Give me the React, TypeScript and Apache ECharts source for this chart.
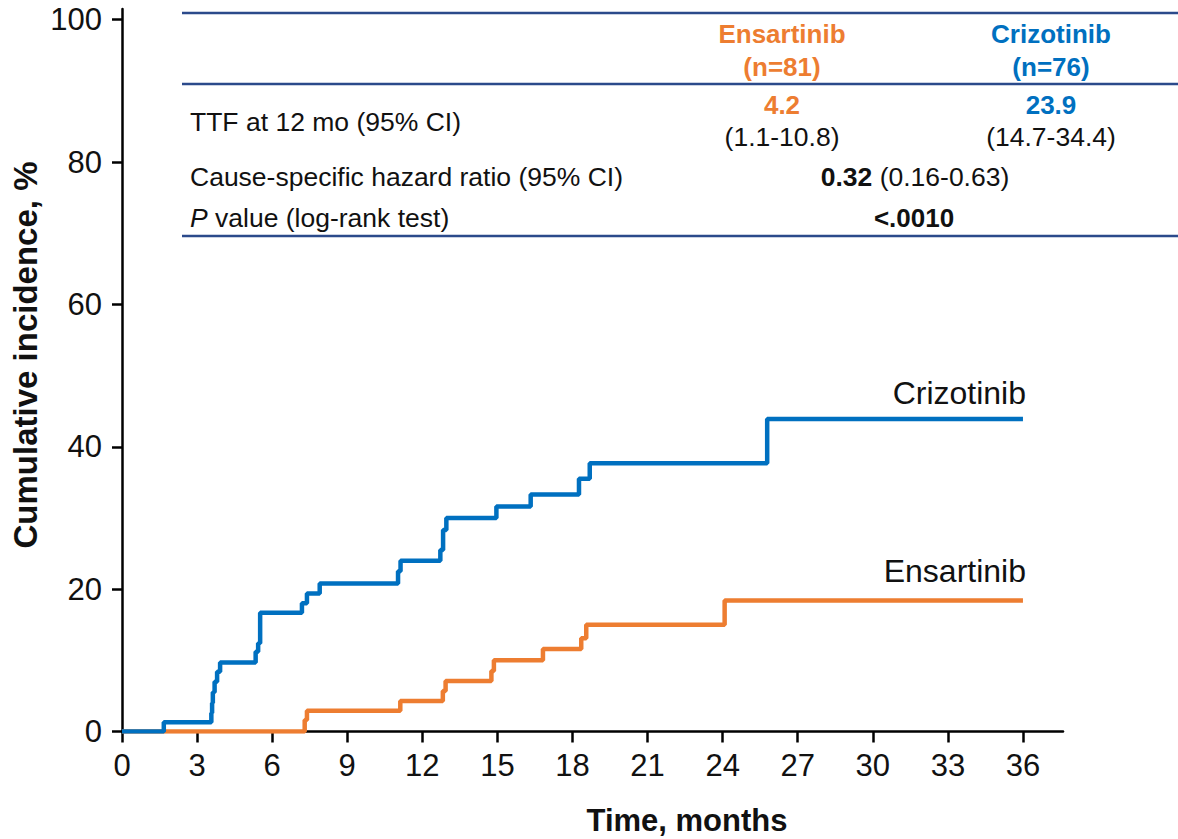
import React, { useEffect, useRef } from "react";
import * as echarts from "echarts";

const xTicks = [0, 3, 6, 9, 12, 15, 18, 21, 24, 27, 30, 33, 36];
const yTicks = [0, 20, 40, 60, 80, 100];

const crizTime = [0, 1.67, 3.57, 3.6, 3.63, 3.7, 3.8, 3.92, 5.34, 5.44, 5.52, 7.19, 7.39, 7.9, 11.03, 11.13, 12.72, 12.83, 12.96, 14.96, 16.33, 18.26, 18.69, 25.78, 36];
const crizInc = [0, 1.3, 2.6, 4.0, 5.5, 7.0, 8.4, 9.7, 11.2, 12.4, 16.7, 18.0, 19.4, 20.8, 22.5, 24.0, 25.5, 28.3, 30.0, 31.6, 33.3, 35.5, 37.7, 43.9, 43.9];

const ensTime = [0, 7.3, 7.39, 11.12, 12.82, 12.93, 14.76, 14.86, 16.82, 18.35, 18.55, 24.08, 36];
const ensInc = [0, 1.6, 2.9, 4.3, 5.7, 7.1, 8.5, 10.0, 11.6, 13.1, 15.0, 18.4, 18.4];

const ORANGE = "#ED7D31";
const BLUE = "#0070C0";
const NAVY = "#2B4A8B";
const FONT = "Liberation Sans";

export default function App() {
  const ref = useRef<HTMLDivElement>(null);
  useEffect(() => {
    if (!ref.current) return;
    const chart = echarts.init(ref.current, null, { renderer: "svg" });
    const tableLine = (y: number) => ({
      type: "line",
      shape: { x1: 182, y1: y, x2: 1178, y2: y },
      style: { stroke: NAVY, lineWidth: 2.5 },
    });
    const txt = (text: string, x: number, y: number, opts: any = {}) => ({
      type: "text",
      x,
      y,
      style: {
        text,
        fontFamily: FONT,
        fontSize: opts.fontSize ?? 26.5,
        fontWeight: opts.bold ? "bold" : "normal",
        fill: opts.color ?? "#111",
        align: opts.align ?? "center",
        verticalAlign: "middle",
        rich: opts.rich,
      },
      rotation: opts.rotation ?? 0,
    });
    chart.setOption({
      animation: false,
      grid: { left: 122, right: 115, top: 9, bottom: 107.5, outerBoundsMode: "none" },
      xAxis: {
        type: "value",
        min: 0,
        max: 37.6,
        interval: 3,
        splitLine: { show: false },
        axisLine: { lineStyle: { color: "#000", width: 2.5 } },
        axisTick: { show: true, length: 11, lineStyle: { color: "#000", width: 2.5 }, customValues: xTicks },
        axisLabel: { customValues: xTicks, fontSize: 31, color: "#111", margin: 18, fontFamily: FONT },
      },
      yAxis: {
        type: "value",
        min: 0,
        max: 101.5,
        interval: 20,
        splitLine: { show: false },
        axisLine: { show: true, lineStyle: { color: "#000", width: 2.5 } },
        axisTick: { show: true, length: 10, lineStyle: { color: "#000", width: 2.5 }, customValues: yTicks },
        axisLabel: { customValues: yTicks, fontSize: 31, color: "#111", margin: 20, fontFamily: FONT },
      },
      series: [
        {
          name: "Ensartinib",
          type: "line",
          step: "end",
          symbol: "none",
          data: ensTime.map((t, i) => [t, ensInc[i]]),
          lineStyle: { color: ORANGE, width: 4.5 },
          itemStyle: { color: ORANGE },
        },
        {
          name: "Crizotinib",
          type: "line",
          step: "end",
          symbol: "none",
          data: crizTime.map((t, i) => [t, crizInc[i]]),
          lineStyle: { color: BLUE, width: 4.5 },
          itemStyle: { color: BLUE },
        },
      ],
      graphic: [
        tableLine(13),
        tableLine(84),
        tableLine(236),
        txt("Ensartinib", 782, 34, { bold: true, color: ORANGE, fontSize: 26 }),
        txt("(n=81)", 782, 67, { bold: true, color: ORANGE, fontSize: 26 }),
        txt("Crizotinib", 1051, 34, { bold: true, color: BLUE, fontSize: 26 }),
        txt("(n=76)", 1051, 67, { bold: true, color: BLUE, fontSize: 26 }),
        txt("4.2", 782, 105, { bold: true, color: ORANGE, fontSize: 26 }),
        txt("(1.1-10.8)", 782, 137),
        txt("23.9", 1051, 105, { bold: true, color: BLUE, fontSize: 26 }),
        txt("(14.7-34.4)", 1051, 137),
        txt("TTF at 12 mo (95% CI)", 190, 122, { align: "left" }),
        txt("Cause-specific hazard ratio (95% CI)", 190, 177, { align: "left" }),
        txt("{i|P} value (log-rank test)", 190, 218, {
          align: "left",
          rich: { i: { fontStyle: "italic", fontFamily: FONT, fontSize: 26.5, fill: "#111" } },
        }),
        txt("{b|0.32} (0.16-0.63)", 915, 177, {
          rich: { b: { fontWeight: "bold", fontFamily: FONT, fontSize: 26.5, fill: "#111" } },
        }),
        txt("<.0010", 914, 218, { bold: true, fontSize: 26 }),
        txt("Crizotinib", 1026, 393, { align: "right", fontSize: 32 }),
        txt("Ensartinib", 1026, 571, { align: "right", fontSize: 32 }),
        txt("Time, months", 687, 820, { bold: true, fontSize: 31 }),
        txt("Cumulative incidence, %", 25, 355, { bold: true, fontSize: 33, rotation: Math.PI / 2 }),
      ],
    });
    return () => chart.dispose();
  }, []);
  return (
    <div
      ref={ref}
      style={{ position: "fixed", left: 0, top: 0, width: 1178, height: 839, background: "#fff" }}
    />
  );
}
